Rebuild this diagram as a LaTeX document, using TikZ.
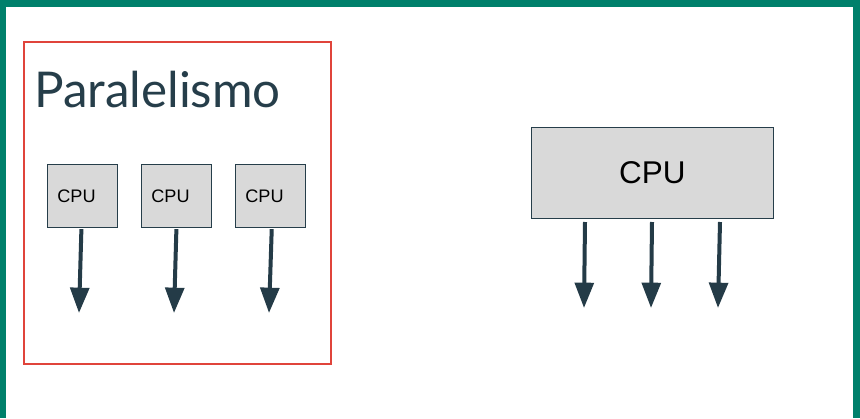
\documentclass[tikz,border=0pt]{standalone}
\usepackage{fontspec}
\setmainfont{Liberation Sans}
\newfontfamily\titlefont{Lato}
\usetikzlibrary{arrows.meta}
\definecolor{frameGreen}{RGB}{0,128,107}
\definecolor{boxRed}{RGB}{224,68,59}
\definecolor{slate}{RGB}{38,62,74}
\definecolor{arrowDark}{RGB}{36,59,71}
\definecolor{cpuFill}{RGB}{217,217,217}
\tikzset{
  smallcpu/.style={draw=slate, line width=0.6pt, fill=cpuFill, minimum width=52.5pt, minimum height=47.25pt,
    inner xsep=7.5pt, text width=37.5pt, align=left, font=\fontsize{13.6}{16}\selectfont, anchor=north west},
  bigcpu/.style={draw=slate, line width=0.6pt, fill=cpuFill, minimum width=181.5pt, minimum height=68.25pt,
    font=\fontsize{23.6}{27}\selectfont, anchor=north west},
  flow/.style={draw=arrowDark, line width=3pt, -{Triangle[length=19pt,width=14pt]}}
}
\begin{document}
\begin{tikzpicture}[x=0.75pt,y=-0.75pt]
\useasboundingbox (0,0) rectangle (860,418);
\fill[white] (0,0) rectangle (860,418);
% green frame
\fill[frameGreen] (0,0) rectangle (860,7);
\fill[frameGreen] (0,0) rectangle (6,418);
\fill[frameGreen] (853,0) rectangle (860,418);
% red group box
\draw[boxRed, line width=2pt] (24,42) rectangle (331,364);
\node[anchor=base west, inner sep=0pt, text=slate, font=\titlefont\fontsize{37}{41}\selectfont] (title) at (34,107) {Paralelismo};
% small CPUs
\node[smallcpu] (c1) at (47,164) {CPU};
\node[smallcpu] (c2) at (141,164) {CPU};
\node[smallcpu] (c3) at (235,164) {CPU};
\coordinate (e1) at (79,313);
\coordinate (e2) at (174,313);
\coordinate (e3) at (269,313);
\draw[flow] ([xshift=-0.75pt,yshift=-1pt]c1.south) -- (e1);
\draw[flow] ([xshift=0pt,yshift=-1pt]c2.south) -- (e2);
\draw[flow] ([xshift=1pt,yshift=-1pt]c3.south) -- (e3);
% big CPU
\node[bigcpu] (big) at (531,127) {CPU};
\coordinate (b1s) at (585,222);
\coordinate (b2s) at (652,222);
\coordinate (b3s) at (720,222);
\coordinate (b1) at (584,308);
\coordinate (b2) at (651,308);
\coordinate (b3) at (718,308);
\draw[flow] (b1s) -- (b1);
\draw[flow] (b2s) -- (b2);
\draw[flow] (b3s) -- (b3);
\end{tikzpicture}
\end{document}
